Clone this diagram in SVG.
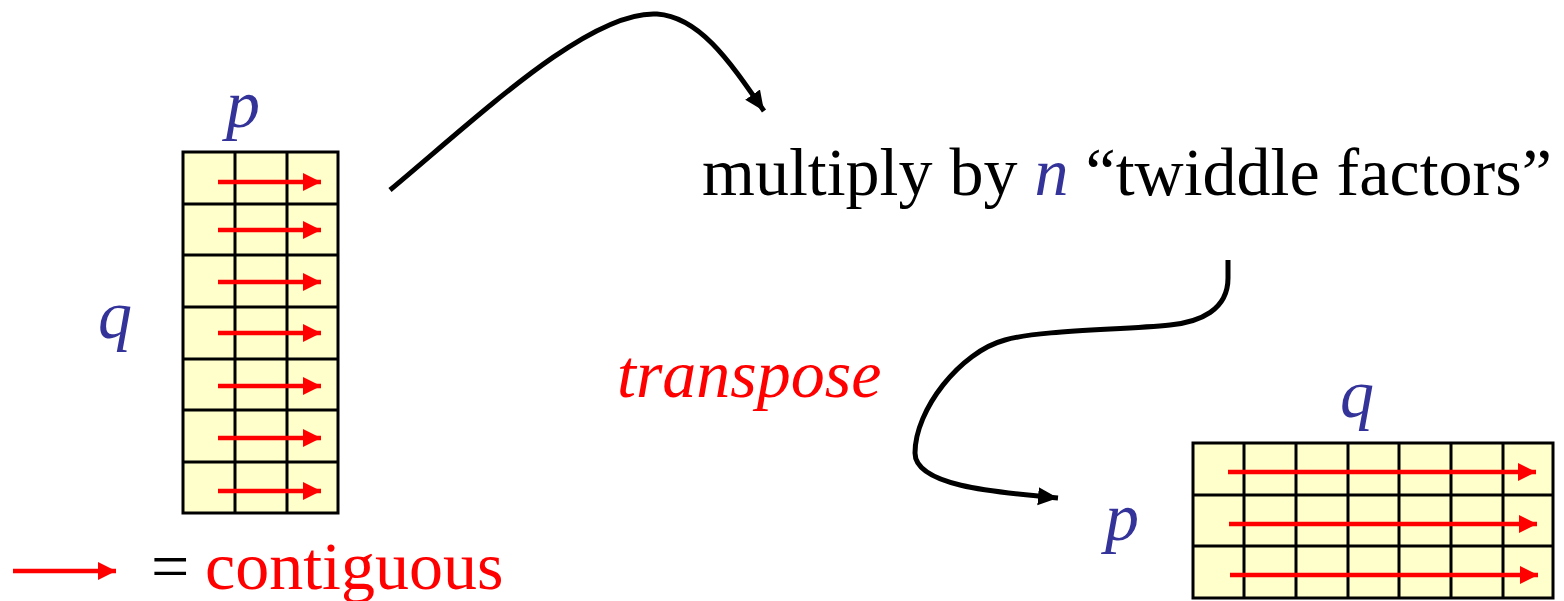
<svg xmlns="http://www.w3.org/2000/svg" width="1564" height="601" viewBox="0 0 1564 601">
<style>
text{font-family:"Liberation Serif","Times New Roman",serif;font-size:68px}
.it{font-style:italic}
.blue{fill:#333399}
.red{fill:#ff0000}
.grid{fill:#ffffcc;stroke:#000;stroke-width:3}
.gl{stroke:#000;stroke-width:3;fill:none}
.ra{stroke:#ff0000;stroke-width:4.5;fill:none;marker-end:url(#rh)}
.conn{stroke:#000;stroke-width:5;fill:none;marker-end:url(#bh)}
</style>
<defs>
<marker id="rh" markerUnits="userSpaceOnUse" markerWidth="19" markerHeight="18" refX="18" refY="9" orient="auto" viewBox="0 0 19 18">
<path d="M0,0 L18,9 L0,18 Z" fill="#ff0000"/>
</marker>
<marker id="bh" markerUnits="userSpaceOnUse" markerWidth="22" markerHeight="20" refX="20" refY="9" orient="auto" viewBox="0 0 22 18">
<path d="M0,0 L20,9 L0,18 Z" fill="#000"/>
</marker>
</defs>
<rect width="1564" height="601" fill="#fff"/>

<g id="left-matrix">
<rect class="grid" x="183" y="152" width="155" height="361"/>
<path class="gl" d="M235,152V513M287,152V513M183,204H338M183,255H338M183,307H338M183,359H338M183,410H338M183,462H338"/>
<path class="ra" d="M218,182H321"/>
<path class="ra" d="M218,230H321"/>
<path class="ra" d="M218,282H321"/>
<path class="ra" d="M218,333H321"/>
<path class="ra" d="M218,386H321"/>
<path class="ra" d="M218,438H321"/>
<path class="ra" d="M218,491H321"/>
<text class="it blue" x="243" y="127" text-anchor="middle">p</text>
<text class="it blue" x="115" y="338" text-anchor="middle">q</text>
</g>

<g id="right-matrix">
<rect class="grid" x="1193" y="443" width="360" height="155"/>
<path class="gl" d="M1244,443V598M1296,443V598M1348,443V598M1399,443V598M1451,443V598M1503,443V598M1193,495H1553M1193,546H1553"/>
<path class="ra" d="M1228,472H1536"/>
<path class="ra" d="M1229,524H1537"/>
<path class="ra" d="M1230,575H1538"/>
<text class="it blue" x="1357" y="417" text-anchor="middle">q</text>
<text class="it blue" x="1122" y="540" text-anchor="middle">p</text>
</g>

<g id="twiddle">
<text x="702" y="195">multiply by <tspan class="it blue">n</tspan> “twiddle factors”</text>
</g>

<g id="transpose-label">
<text class="it red" x="617" y="397">transpose</text>
</g>

<g id="legend">
<path class="ra" d="M13,571H116"/>
<text x="151" y="589">=</text>
<text class="red" x="205" y="589">contiguous</text>
</g>

<g id="connectors">
<path class="conn" d="M390,190 C480,115 590,10 657,14 C700,17 730,62 764,111"/>
<path class="conn" d="M1228,260 L1228,278 C1228,310 1200,322 1170,325 C1120,330 1040,330 1005,340 C960,352 915,410 915,453 C915,485 990,492 1058,498"/>
</g>
</svg>
